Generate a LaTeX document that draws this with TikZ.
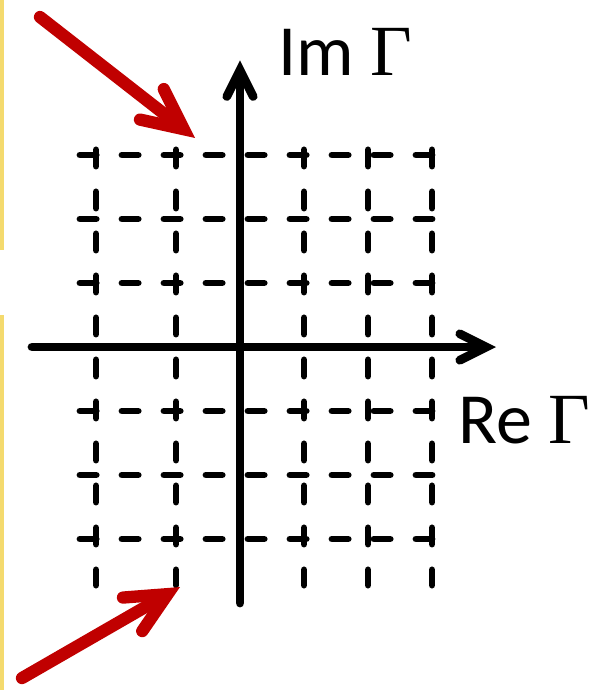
\documentclass[tikz,border=0pt]{standalone}
\usepackage{fontspec}
\setmainfont{Carlito}
\newfontfamily\gammafont{Liberation Serif}
\usepackage{tikz}
\usetikzlibrary{arrows.meta}
\definecolor{pointred}{RGB}{192,0,0}
\definecolor{slideyellow}{RGB}{244,218,110}
\tikzset{every node/.append style={font=\fontsize{41}{48}\selectfont, inner sep=0pt}}
\tikzset{
    gridline/.style={line width=3.9pt, line cap=round, dash pattern=on 9.2pt off 14.7pt},
    axis/.style={line width=5pt, line cap=round,
        -{Straight Barb[length=15pt, width=15pt, line cap=round, line join=miter]}},
    pointer/.style={pointred, line width=7pt, line cap=round,
        -{Straight Barb[length=23pt, width=22pt, line cap=round, line join=miter]}}
}

\begin{document}
\begin{tikzpicture}[x=1.28cm, y=1.28cm]
    \useasboundingbox (-3.75,-5.359) rectangle (5.516,5.422);
    % edge strips
    \fill[slideyellow] (-3.75,5.422) rectangle (-3.695,1.516);
    \fill[slideyellow] (-3.75,0.5) rectangle (-3.695,-5.359);
    % dashed lattice
    \foreach \y in {-3,-2,-1,1,2,3}
        \draw[gridline] (-2.5,\y) -- (3,\y);
    \foreach \x in {-2.25,-1,1,2,3}
        \draw[gridline] (\x,3.08) -- (\x,-3.72);
    % axes
    \coordinate (O) at (0,0);
    \coordinate (Xa) at (-3.25,0);
    \coordinate (Xb) at (4,0);
    \coordinate (Ya) at (0,-4);
    \coordinate (Yb) at (0,4.48);
    \draw[axis] (Xa) -- (Xb);
    \draw[axis] (Ya) -- (Yb);
    \node[anchor=base west] (re) at (3.41,-1.5) {Re {\gammafont Γ}};
    \node[anchor=base west] (im) at (0.6,4.25) {Im {\gammafont Γ}};
    % red pointers
    \coordinate (A1) at (-3.125,5.156);
    \coordinate (T1) at (-0.703,3.266);
    \coordinate (A2) at (-3.406,-5.172);
    \coordinate (T2) at (-0.9375,-3.75);
    \draw[pointer] (A1) -- (T1);
    \draw[pointer] (A2) -- (T2);
\end{tikzpicture}
\end{document}
